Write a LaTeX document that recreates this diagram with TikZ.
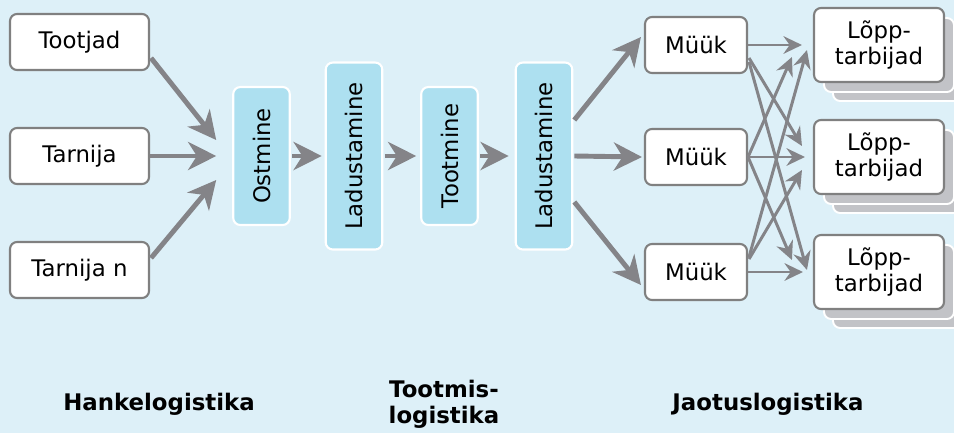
\documentclass[tikz,border=0pt]{standalone}
\usepackage{fontspec}
\setmainfont{DejaVu Sans}
\usetikzlibrary{arrows.meta,positioning}
\definecolor{bgblue}{HTML}{DDF0F8}
\definecolor{stageblue}{HTML}{ADE0F0}
\definecolor{boxgray}{HTML}{808080}
\definecolor{arrgray}{HTML}{848488}
\definecolor{stackgray}{HTML}{C2C3C7}
\tikzset{
  whitebox/.style={draw=boxgray, line width=1.2pt, fill=white, rounded corners=4pt,
    align=center, inner sep=0pt, font=\fontsize{13}{15}\selectfont},
  stackbox/.style={draw=white, line width=1.1pt, fill=stackgray, rounded corners=4pt,
    inner sep=0pt, minimum width=2.6cm, minimum height=1.48cm},
  stagebox/.style={draw=white, line width=1.2pt, fill=stageblue, rounded corners=4pt,
    rotate=90, inner sep=0pt, minimum height=1.13cm, font=\fontsize{13}{15}\selectfont},
  bigarr/.style={draw=arrgray, line width=2.8pt, -{Stealth[length=16pt,width=16pt,inset=5pt]}},
  smallarr/.style={draw=arrgray, line width=1.7pt, -{Stealth[length=10.5pt,width=10pt,inset=3.5pt]}},
  areatext/.style={align=center, font=\fontsize{13}{15}\selectfont\bfseries}
}
\begin{document}
\begin{tikzpicture}[x=0.02cm, y=-0.02cm]
        \fill[bgblue] (0,0) rectangle (954,433);
        \useasboundingbox (0,0) rectangle (954,433);
        % suppliers
        \node[whitebox, minimum width=2.78cm, minimum height=1.12cm] (tootjad) at (79.5,42) {Tootjad};
        \node[whitebox, minimum width=2.78cm, minimum height=1.12cm] (tarnija) at (79.5,156) {Tarnija};
        \node[whitebox, minimum width=2.78cm, minimum height=1.12cm] (tarnijan) at (79.5,270) {Tarnija n};
        % stages
        \node[stagebox, minimum width=2.76cm] (ost) at (261.5,156) {Ostmine};
        \node[stagebox, minimum width=3.74cm] (lad) at (354,156) {Ladustamine};
        \node[stagebox, minimum width=2.76cm] (toot) at (449.5,156) {Tootmine};
        \node[stagebox, minimum width=3.74cm] (ladb) at (544,156) {Ladustamine};
        % sales
        \node[whitebox, minimum width=2.04cm, minimum height=1.12cm] (myyk1) at (696,45) {Müük};
        \node[whitebox, minimum width=2.04cm, minimum height=1.12cm] (myyk2) at (696,157) {Müük};
        \node[whitebox, minimum width=2.04cm, minimum height=1.12cm] (myyk3) at (696,272) {Müük};
        % end users
        \foreach \i/\y in {1/45,2/157,3/272} {
          \node[stackbox] (lopp\i c) at (898,{\y+19}) {};
          \node[stackbox] (lopp\i b) at (889,{\y+10}) {};
          \node[whitebox, minimum width=2.6cm, minimum height=1.48cm] (lopp\i) at (879,\y) {Lõpp-\\tarbijad};
        }
        % areas
        \node[areatext] (hanke) at (159,404) {Hankelogistika};
        \node[areatext] (tootmis) at (444,404) {Tootmis-\\logistika};
        \node[areatext] (jaotus) at (768,404) {Jaotuslogistika};
        \draw[bigarr] ([shift={(1,16)}]tootjad.east) -- ([shift={(-16,-16)}]ost.north);
        \draw[bigarr] (tarnija.east) -- ([xshift=-0.32cm]ost.north);
        \draw[bigarr] ([shift={(1,-12)}]tarnijan.east) -- ([shift={(-16,24)}]ost.north);
        \draw[bigarr] ([xshift=0.03cm]ost.south) -- ([xshift=-0.06cm]lad.north);
        \draw[bigarr] ([xshift=0.03cm]lad.south) -- ([xshift=-0.08cm]toot.north);
        \draw[bigarr] ([xshift=0.03cm]toot.south) -- ([xshift=-0.12cm]ladb.north);
        \draw[bigarr] ([shift={(1,-36)}]ladb.south) -- ([shift={(-3,-8)}]myyk1.west);
        \draw[bigarr] ([xshift=0.02cm]ladb.south) -- ([xshift=-0.04cm]myyk2.west);
        \draw[bigarr] ([shift={(1,46)}]ladb.south) -- ([shift={(-3,13)}]myyk3.west);
        \draw[smallarr] (myyk1.east) -- ([xshift=-0.22cm]lopp1.west);
        \draw[smallarr] ([shift={(1,13)}]myyk1.east) -- ([shift={(-11,-11)}]lopp2.west);
        \draw[smallarr] ([shift={(1,17)}]myyk1.east) -- ([shift={(-6,-2)}]lopp3.west);
        \draw[smallarr] (myyk2.east) -- ([shift={(-21,12)}]lopp1.west);
        \draw[smallarr] (myyk2.east) -- ([xshift=-0.16cm]lopp2.west);
        \draw[smallarr] (myyk2.east) -- ([shift={(-21,-12)}]lopp3.west);
        \draw[smallarr] ([shift={(1,-15)}]myyk3.east) -- ([shift={(-6,5)}]lopp1.west);
        \draw[smallarr] ([shift={(1,-13)}]myyk3.east) -- ([shift={(-11,13)}]lopp2.west);
        \draw[smallarr] (myyk3.east) -- ([xshift=-0.2cm]lopp3.west);
      \end{tikzpicture}
\end{document}
